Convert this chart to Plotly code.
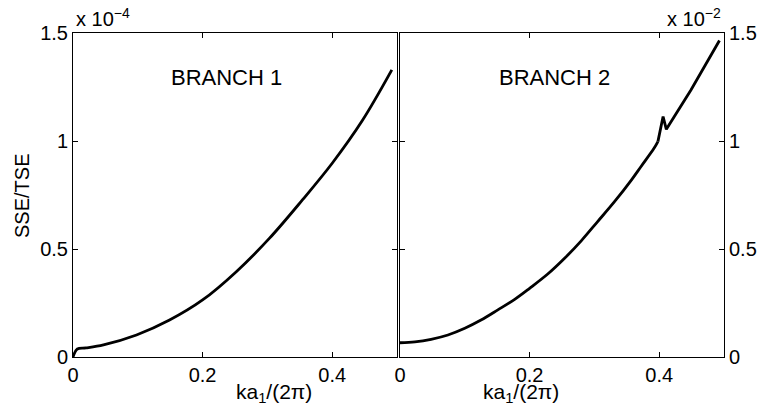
import plotly.graph_objects as go
from plotly.subplots import make_subplots

# values, y in units of 1e-4 (branch 1) and 1e-2 (branch 2)
k1 = [0.0, 0.0067, 0.02, 0.047, 0.098, 0.149, 0.2, 0.252, 0.303, 0.354, 0.4, 0.447, 0.492]
sse1 = [0.0, 0.037, 0.042, 0.056, 0.102, 0.171, 0.264, 0.395, 0.549, 0.727, 0.897, 1.097, 1.329]

k2 = [0.0, 0.023, 0.048, 0.074, 0.1, 0.125, 0.151, 0.177, 0.2, 0.228, 0.254, 0.28, 0.305,
      0.331, 0.357, 0.372, 0.392, 0.398, 0.406, 0.411, 0.449, 0.493]
sse2 = [0.066, 0.07, 0.082, 0.102, 0.133, 0.171, 0.218, 0.267, 0.318, 0.384, 0.457, 0.539, 0.627,
        0.719, 0.819, 0.882, 0.966, 0.997, 1.113, 1.054, 1.236, 1.465]
smooth_end = 18  # index where the curve stops being smooth

xticks = [0, 0.2, 0.4]
yticks = [0, 0.5, 1, 1.5]

W, H = 762, 417
FONT = "Liberation Sans, Arial, sans-serif"

fig = make_subplots(rows=1, cols=2)

line = dict(color="black", width=2.8)
fig.add_trace(go.Scatter(x=k1, y=sse1, mode="lines", line=dict(line, shape="spline")), 1, 1)
fig.add_trace(go.Scatter(x=k2[:smooth_end], y=sse2[:smooth_end], mode="lines",
                         line=dict(line, shape="spline")), 1, 2)
fig.add_trace(go.Scatter(x=k2[smooth_end - 1:], y=sse2[smooth_end - 1:], mode="lines",
                         line=line), 1, 2)

ax = dict(showgrid=False, zeroline=False, showline=True, linecolor="black", linewidth=1,
          mirror="ticks", ticks="inside", ticklen=5, tickcolor="black", automargin=False,
          tickfont=dict(family=FONT, size=20, color="black"))

fig.update_xaxes(**ax, range=[0, 0.5], tickvals=xticks, ticktext=["0", "0.2", "0.4"])
fig.update_yaxes(**ax, range=[0, 1.5], tickvals=yticks, ticktext=["0", "0.5", "1", "1.5"])

fig.update_layout(
    width=W, height=H, margin=dict(l=0, r=0, t=0, b=0, autoexpand=False),
    plot_bgcolor="white", paper_bgcolor="white", showlegend=False,
    xaxis=dict(domain=[73 / W, 397 / W]),
    xaxis2=dict(domain=[400 / W, 724 / W]),
    yaxis=dict(domain=[60 / H, 384 / H]),
    yaxis2=dict(domain=[60 / H, 384 / H], side="right"),
)

def py(p):
    return 1 - p / H

notes = [
    dict(x=0.237, y=1.296, xref="x", yref="y", text="BRANCH 1", font=dict(size=22)),
    dict(x=0.238, y=1.296, xref="x2", yref="y2", text="BRANCH 2", font=dict(size=22)),
    dict(x=74 / W, y=py(32), xref="paper", yref="paper", xanchor="left", yanchor="bottom",
         text="x 10<sup>\u22124</sup>", font=dict(size=20)),
    dict(x=723 / W, y=py(32), xref="paper", yref="paper", xanchor="right", yanchor="bottom",
         text="x 10<sup>\u22122</sup>", font=dict(size=20)),
    dict(x=234 / W, y=py(393), xref="paper", yref="paper", yanchor="middle",
         text="ka<sub>1</sub>/(2\u03c0)", font=dict(size=21)),
    dict(x=561 / W, y=py(393), xref="paper", yref="paper", yanchor="middle",
         text="ka<sub>1</sub>/(2\u03c0)", font=dict(size=21)),
    dict(x=22 / W, y=py(196), xref="paper", yref="paper", xanchor="center", textangle=-90,
         text="SSE/TSE", font=dict(size=20)),
]
for n in notes:
    n["font"].update(family=FONT, color="black")
    fig.add_annotation(showarrow=False, **n)

# drop the page's default body margin so the figure sits at the window's corner
fig.write_html("out.html", config={"displayModeBar": False},
               post_script="document.body.style.margin='0';")
